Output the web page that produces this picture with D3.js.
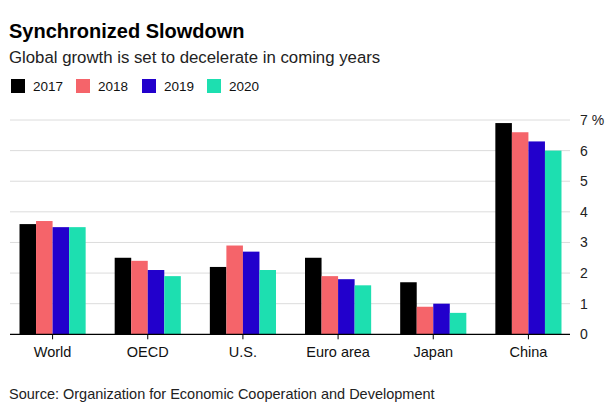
<!DOCTYPE html>
<html><head><meta charset="utf-8">
<script src="https://cdn.jsdelivr.net/npm/d3@7"></script>
<style>
body{margin:0;background:#fff;}
svg{display:block;font-family:"Liberation Sans",Arial,sans-serif;}
</style></head><body>
<svg id="chart" width="612" height="413"></svg>
<script>
const categories = ["World","OECD","U.S.","Euro area","Japan","China"];
const seriesNames = ["2017","2018","2019","2020"];
const v2017 = [3.6,2.5,2.2,2.5,1.7,6.9];
const v2018 = [3.7,2.4,2.9,1.9,0.9,6.6];
const v2019 = [3.5,2.1,2.7,1.8,1.0,6.3];
const v2020 = [3.5,1.9,2.1,1.6,0.7,6.0];
const yTicks = [0,1,2,3,4,5,6,7];
const colors = ["#000000","#f5646a","#2200cc","#1ddfb0"];

const seriesValues = [v2017,v2018,v2019,v2020];
const svg = d3.select("#chart");

svg.append("text").attr("x",9).attr("y",38).attr("font-size",20).attr("font-weight","bold").attr("fill","#000").text("Synchronized Slowdown");
svg.append("text").attr("x",9).attr("y",63).attr("font-size",16.8).attr("fill","#222").text("Global growth is set to decelerate in coming years");

const legendX = [11,76,142,207];
seriesNames.forEach((s,i)=>{
  svg.append("rect").attr("x",legendX[i]).attr("y",79).attr("width",14).attr("height",14).attr("fill",colors[i]);
  svg.append("text").attr("x",legendX[i]+22).attr("y",91).attr("font-size",13.5).attr("fill","#111").text(s);
});

const y = d3.scaleLinear().domain([0,7]).range([334.3,120]);
const x0 = d3.scaleBand().domain(categories).range([5,576]).paddingInner(0.305).paddingOuter(0.1525);
const x1 = d3.scaleBand().domain(seriesNames).range([0,x0.bandwidth()]);

// gridlines
svg.append("g").selectAll("line").data(yTicks.filter(d=>d>0)).join("line")
  .attr("x1",10).attr("x2",570).attr("y1",d=>y(d)).attr("y2",d=>y(d))
  .attr("stroke","#dcdcdc").attr("stroke-width",1);

// y axis labels on right
const yAxis = d3.axisRight(y).tickValues(yTicks).tickSize(0).tickPadding(0)
  .tickFormat(d=> d===7 ? "7 %" : d);
const ga = svg.append("g").attr("transform","translate(580,0)").call(yAxis);
ga.select(".domain").remove();
ga.selectAll("text").attr("font-size",14).attr("fill","#222").attr("font-family","Liberation Sans, Arial, sans-serif");

// bars
const groups = svg.append("g").selectAll("g").data(categories).join("g")
  .attr("transform",d=>`translate(${x0(d)},0)`);
groups.selectAll("rect").data((d,ci)=>seriesNames.map((s,si)=>({s,v:seriesValues[si][ci],si})))
  .join("rect")
  .attr("x",d=>x1(d.s)).attr("width",x1.bandwidth())
  .attr("y",d=>y(d.v)).attr("height",d=>y(0)-y(d.v))
  .attr("fill",d=>colors[d.si]);

// baseline & category axis
const xAxis = d3.axisBottom(x0).tickSize(5).tickPadding(7);
const gx = svg.append("g").attr("transform",`translate(0,${y(0)})`).call(xAxis);
gx.select(".domain").remove();
gx.selectAll(".tick line").attr("stroke","#000");
gx.selectAll("text").attr("font-size",14.5).attr("fill","#111").attr("font-family","Liberation Sans, Arial, sans-serif");
svg.append("line").attr("x1",10).attr("x2",570).attr("y1",y(0)).attr("y2",y(0)).attr("stroke","#000").attr("stroke-width",1.3);

svg.append("text").attr("x",9).attr("y",399).attr("font-size",14.5).attr("fill","#222").text("Source: Organization for Economic Cooperation and Development");
</script>
</body></html>
